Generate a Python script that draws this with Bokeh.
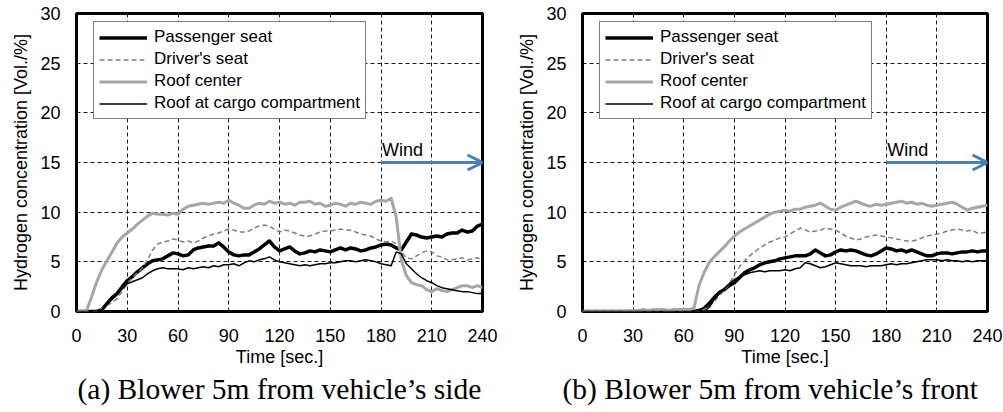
from bokeh.plotting import figure
from bokeh.layouts import row
from bokeh.models import Range1d, FixedTicker, Legend, LegendItem, Arrow, OpenHead, Label, Title
from bokeh.embed import file_html
from bokeh.resources import INLINE

# ---------------- data ----------------
time_s = list(range(0, 241, 3))

a_passenger = [0, 0, 0, 0, 0, 0.2, 0.8, 1.4, 1.8, 2.5,
               3.1, 3.5, 4.0, 4.4, 4.8, 5.1, 5.2, 5.3, 5.6, 5.9,
               5.8, 5.6, 5.7, 6.2, 6.4, 6.5, 6.6, 6.6, 6.9, 6.5,
               6.0, 5.7, 5.6, 5.7, 5.7, 6.0, 6.3, 6.7, 7.1, 6.5,
               6.1, 6.3, 6.5, 6.1, 5.8, 5.9, 6.1, 6.0, 6.2, 6.1,
               6.0, 6.2, 6.4, 6.2, 6.4, 6.3, 6.1, 6.2, 6.4, 6.5,
               6.7, 6.8, 6.7, 6.4, 6.2, 7.0, 7.8, 7.7, 7.5, 7.4,
               7.5, 7.6, 7.5, 7.8, 7.9, 7.9, 8.2, 8.0, 8.1, 8.6,
               8.8]
a_driver = [0, 0, 0, 0, 0, 0.3, 0.6, 0.9, 1.3, 2.0,
            2.8, 3.4, 3.9, 4.4, 5.2, 6.2, 6.8, 7.0, 7.1, 7.3,
            7.2, 7.0, 7.1, 6.9, 7.1, 7.4, 7.6, 7.8, 7.9, 8.1,
            8.3, 8.2, 8.0, 8.0, 8.1, 8.4, 8.6, 8.7, 8.6, 8.3,
            8.0, 8.2, 8.1, 7.9, 7.7, 7.6, 7.6, 7.8, 8.0, 8.1,
            8.1, 8.2, 8.3, 8.2, 8.2, 8.0, 7.8, 7.7, 7.6, 7.3,
            7.1, 7.0, 7.1, 6.8, 6.0, 5.4, 5.3, 5.6, 5.9, 6.1,
            6.0, 5.6, 5.5, 5.2, 5.2, 5.3, 5.4, 5.2, 5.3, 5.4,
            5.2]
a_roof_center = [0, 0, 0.1, 1.5, 3.0, 4.2, 5.1, 6.0, 6.9, 7.5,
                 7.9, 8.3, 8.8, 9.2, 9.6, 9.9, 9.8, 9.8, 9.7, 9.9,
                 9.8, 10.3, 10.6, 10.7, 10.8, 10.9, 10.8, 10.9, 11.0, 10.9,
                 11.2, 10.9, 10.7, 10.4, 10.4, 10.7, 10.9, 10.8, 11.1, 10.9,
                 11.0, 10.8, 10.9, 10.7, 11.0, 11.0, 11.1, 10.8, 10.9, 10.6,
                 10.7, 10.9, 10.8, 10.6, 10.9, 10.8, 11.0, 10.9, 10.8, 11.1,
                 11.2, 11.1, 11.4, 9.5, 5.2, 3.6, 2.9, 2.7, 2.6, 2.2,
                 2.0, 2.3, 2.1, 2.0, 2.2, 2.4, 2.6, 2.6, 2.4, 2.6,
                 2.4]
a_roof_cargo = [0, 0, 0, 0, 0, 0.2, 0.7, 1.2, 1.7, 2.3,
                2.8, 3.0, 3.2, 3.4, 3.8, 4.1, 4.3, 4.4, 4.3, 4.3,
                4.3, 4.2, 4.4, 4.3, 4.4, 4.5, 4.4, 4.6, 4.5, 4.7,
                4.7, 4.8, 4.6, 4.9, 5.1, 5.0, 5.2, 5.3, 5.5, 5.2,
                5.0, 4.9, 4.8, 4.7, 4.6, 4.7, 4.6, 4.7, 4.8, 4.8,
                4.9, 4.9, 5.0, 5.1, 5.1, 5.0, 5.1, 5.2, 5.1, 5.0,
                4.8, 4.7, 4.6, 6.0, 5.8, 4.8, 4.3, 3.8, 3.4, 3.1,
                2.9, 2.6, 2.4, 2.3, 2.2, 2.1, 2.0, 2.0, 1.9, 1.8,
                1.8]

b_passenger = [0, 0, 0, 0, 0, 0, 0, 0, 0, 0,
               0, 0, 0, 0, 0, 0, 0, 0, 0, 0,
               0, 0, 0, 0.1, 0.3, 0.8, 1.4, 1.9, 2.2, 2.6,
               2.9, 3.4, 3.9, 4.2, 4.4, 4.7, 4.9, 5.0, 5.1, 5.3,
               5.4, 5.5, 5.6, 5.6, 5.6, 5.8, 6.2, 5.9, 5.6, 5.7,
               6.0, 6.2, 6.1, 6.2, 6.1, 5.9, 5.7, 5.6, 5.8, 6.1,
               6.4, 6.3, 6.1, 6.2, 6.0, 6.2, 6.0, 5.8, 5.6, 5.6,
               5.8, 5.9, 5.9, 5.8, 5.9, 6.0, 6.0, 6.1, 6.0, 6.1,
               6.1]
b_driver = [0, 0, 0, 0, 0, 0, 0, 0, 0, 0,
            0, 0, 0, 0, 0, 0, 0, 0, 0, 0,
            0, 0, 0, 0, 0.2, 0.5, 1.0, 1.6, 2.1, 2.8,
            3.7, 4.5, 5.1, 5.6, 6.0, 6.4, 6.7, 7.0, 7.2, 7.4,
            7.5, 7.8, 8.1, 8.4, 8.2, 8.0, 8.1, 8.2, 8.4, 8.3,
            8.2, 7.9, 7.6, 7.4, 7.2, 7.3, 7.5, 7.6, 7.7, 7.6,
            7.5, 7.4, 7.3, 7.2, 7.1, 7.1, 7.2, 7.4, 7.6, 7.7,
            7.8, 7.9, 8.1, 8.2, 8.3, 8.2, 8.1, 8.2, 7.9, 7.9,
            8.0]
b_roof_center = [0, 0, 0, 0, 0, 0, 0, 0, 0, 0,
                 0.1, 0.1, 0.2, 0.1, 0.2, 0.2, 0.2, 0.1, 0.2, 0.2,
                 0.2, 0.2, 0.3, 2.6, 3.9, 4.9, 5.5, 6.0, 6.5, 7.1,
                 7.6, 8.0, 8.3, 8.6, 8.9, 9.2, 9.5, 9.8, 10.0, 10.1,
                 10.2, 10.1, 10.3, 10.3, 10.5, 10.6, 10.7, 10.9, 10.6, 10.3,
                 10.2, 10.5, 10.7, 10.9, 11.1, 10.9, 10.7, 10.6, 10.8, 10.7,
                 10.8, 10.9, 11.0, 11.1, 10.9, 11.0, 10.8, 10.9, 10.7, 10.6,
                 10.7, 10.8, 10.9, 11.0, 10.8, 10.5, 10.2, 10.4, 10.5, 10.6,
                 10.7]
b_roof_cargo = [0, 0, 0, 0, 0, 0, 0, 0, 0, 0,
                0, 0, 0, 0, 0, 0, 0, 0, 0, 0,
                0, 0, 0, 0, 0, 0.4, 1.2, 1.8, 2.3, 2.8,
                3.2, 3.5, 3.7, 3.9, 4.0, 4.1, 4.0, 4.1, 4.1, 4.1,
                4.2, 4.1, 4.3, 4.4, 4.9, 4.8, 4.6, 4.4, 4.5, 4.7,
                4.9, 4.8, 4.7, 4.6, 4.6, 4.6, 4.5, 4.6, 4.6, 4.6,
                4.7, 4.8, 4.7, 4.8, 4.8, 4.9, 5.0, 5.1, 5.2, 5.2,
                5.2, 5.1, 5.2, 5.1, 5.1, 5.0, 5.1, 5.0, 5.1, 5.1,
                5.1]

series_labels = ["Passenger seat", "Driver's seat", "Roof center", "Roof at cargo compartment"]
x_ticks = [0, 30, 60, 90, 120, 150, 180, 210, 240]
y_ticks = [0, 5, 10, 15, 20, 25, 30]
wind_start, wind_end, wind_level = 180, 240, 15
captions = ["(a) Blower 5m from vehicle\u2019s side", "(b) Blower 5m from vehicle\u2019s front"]

# ---------------- styling ----------------
SANS = "Liberation Sans"
SERIF = "Liberation Serif"
STYLES = [
    dict(color="#000000", width=3.5, dash="solid"),
    dict(color="#808080", width=1.5, dash="5 3"),
    dict(color="#a6a6a6", width=3.0, dash="solid"),
    dict(color="#000000", width=1.5, dash="solid"),
]
WIND_BLUE = "#4a7ebb"


def panel(series, caption, width, b_left, b_right, cap_offset):
    p = figure(width=width, height=412,
               x_range=Range1d(0, 240), y_range=Range1d(0, 30),
               output_backend="svg", toolbar_location=None,
               min_border_left=b_left, min_border_right=b_right,
               min_border_top=13, min_border_bottom=101)
    p.background_fill_color = "white"
    p.border_fill_color = "white"
    p.outline_line_color = "black"
    p.outline_line_width = 3

    for g, ticks in ((p.xgrid, x_ticks), (p.ygrid, y_ticks)):
        g.ticker = FixedTicker(ticks=ticks)
        g.grid_line_color = "black"
        g.grid_line_width = 1
        g.grid_line_dash = "4 3"
        g.grid_line_alpha = 0.9

    p.xaxis.ticker = FixedTicker(ticks=x_ticks)
    p.yaxis.ticker = FixedTicker(ticks=y_ticks)
    for ax in (p.xaxis, p.yaxis):
        ax.axis_line_color = None
        ax.major_tick_line_color = None
        ax.minor_tick_line_color = None
        ax.major_tick_in = 0
        ax.major_tick_out = 0
        ax.major_label_text_font = SANS
        ax.major_label_text_font_size = "18px"
        ax.major_label_text_color = "black"
        ax.axis_label_text_font = SANS
        ax.axis_label_text_font_size = "18px"
        ax.axis_label_text_font_style = "normal"
        ax.axis_label_text_color = "black"
    p.xaxis.major_label_standoff = 17
    p.yaxis.major_label_standoff = 16
    p.xaxis.axis_label = "Time [sec.]"
    p.yaxis.axis_label = "Hydrogen concentration [Vol./%]"
    p.xaxis.axis_label_standoff = 2
    p.yaxis.axis_label_standoff = 6

    items = []
    for label, ys, st in zip(series_labels, series, STYLES):
        r = p.line(time_s, ys, line_color=st["color"], line_width=st["width"],
                   line_dash=st["dash"], line_join="round")
        items.append(LegendItem(label=label, renderers=[r]))

    leg = Legend(items=items, location=(17, 192), padding=5,
                 spacing=2, label_height=17, glyph_height=17, glyph_width=48,
                 label_standoff=7, border_line_color="black", border_line_width=1,
                 background_fill_color="white", background_fill_alpha=1,
                 label_text_font=SANS, label_text_font_size="17px",
                 label_text_line_height=1.0, label_text_color="black")
    p.add_layout(leg)

    p.add_layout(Arrow(end=OpenHead(size=15, line_color=WIND_BLUE, line_width=3),
                       x_start=wind_start, y_start=wind_level,
                       x_end=wind_end, y_end=wind_level,
                       line_color=WIND_BLUE, line_width=3))
    p.add_layout(Label(x=wind_start, y=wind_level, text="Wind", x_offset=1, y_offset=3,
                       text_font=SANS, text_font_size="18px", text_color="black",
                       text_baseline="bottom"))

    p.add_layout(Title(text=caption, align="left", offset=cap_offset,
                       text_font=SERIF, text_font_size="29.5px",
                       text_font_style="normal", text_color="black", standoff=3), "below")
    return p


pa = panel([a_passenger, a_driver, a_roof_center, a_roof_cargo], captions[0], 505, 76, 23, 1)
pb = panel([b_passenger, b_driver, b_roof_center, b_roof_cargo], captions[1], 498, 77, 16, -20)

layout = row(pa, pb)
open("out.html", "w").write(file_html(layout, INLINE))
